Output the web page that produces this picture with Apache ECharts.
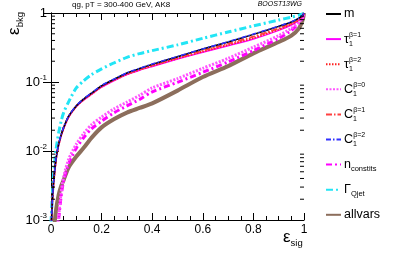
<!DOCTYPE html>
<html><head><meta charset="utf-8">
<script src="https://cdn.jsdelivr.net/npm/echarts@6/dist/echarts.min.js"></script>
<style>html,body{margin:0;padding:0;background:#fff}#c{width:399px;height:254px}</style>
</head><body><div id="c"></div>
<script>
const sigEff = [0, 0.005, 0.01, 0.02, 0.03, 0.04, 0.05, 0.07, 0.1, 0.13, 0.16, 0.2, 0.25, 0.3, 0.35, 0.4, 0.5, 0.6, 0.7, 0.8, 0.9, 0.95, 0.98, 0.995, 1];
const bkgM      = [0.0006,0.0018,0.0035,0.0078,0.0125,0.017,0.022,0.032,0.045,0.057,0.069,0.088,0.11,0.135,0.157,0.18,0.232,0.3,0.38,0.49,0.64,0.74,0.84,0.93,1];
const bkgTau1   = [0.0006,0.0017,0.0033,0.0075,0.012,0.0165,0.021,0.031,0.044,0.055,0.066,0.084,0.105,0.128,0.148,0.168,0.215,0.27,0.335,0.42,0.56,0.67,0.79,0.9,1];
const bkgTau2   = [0.0006,0.0018,0.0034,0.0077,0.0123,0.0168,0.0215,0.0315,0.0445,0.056,0.067,0.086,0.107,0.13,0.151,0.172,0.22,0.277,0.345,0.435,0.58,0.69,0.8,0.91,1];
const bkgC0     = [0.00005,0.0001,0.0002,0.0005,0.0011,0.0025,0.0042,0.0076,0.0125,0.018,0.024,0.031,0.041,0.051,0.064,0.082,0.112,0.158,0.22,0.32,0.47,0.6,0.74,0.87,1];
const bkgC1     = [0.0006,0.0018,0.0034,0.0077,0.0124,0.0169,0.0218,0.0318,0.0448,0.0565,0.068,0.087,0.108,0.132,0.153,0.175,0.225,0.285,0.36,0.455,0.6,0.71,0.82,0.92,1];
const bkgC2     = [0.0006,0.0018,0.0035,0.0079,0.0126,0.0172,0.0222,0.0322,0.0455,0.0575,0.0695,0.089,0.111,0.136,0.158,0.182,0.235,0.302,0.383,0.495,0.645,0.745,0.845,0.93,1];
const bkgNconst = [0.00004,0.00008,0.00015,0.0004,0.001,0.0022,0.0037,0.0066,0.011,0.0158,0.021,0.027,0.036,0.045,0.056,0.072,0.099,0.138,0.195,0.285,0.43,0.56,0.71,0.86,1];
const bkgQjet   = [0.0009,0.0022,0.0045,0.0105,0.018,0.027,0.036,0.052,0.082,0.105,0.128,0.155,0.19,0.228,0.258,0.285,0.345,0.43,0.53,0.65,0.79,0.87,0.93,0.97,1];
const bkgAll    = [0.0001,0.0003,0.0006,0.0014,0.0023,0.0031,0.0038,0.0058,0.0083,0.0112,0.0155,0.022,0.029,0.036,0.042,0.049,0.075,0.118,0.17,0.26,0.38,0.47,0.6,0.8,1];
const yMinorTicks = [0.002,0.003,0.004,0.005,0.006,0.007,0.008,0.009,0.02,0.03,0.04,0.05,0.06,0.07,0.08,0.09,0.2,0.3,0.4,0.5,0.6,0.7,0.8,0.9];
const xTickLabels = {0:'0',0.2:'0.2',0.4:'0.4',0.6:'0.6',0.8:'0.8',1:'1'};
const seriesNames = ['m','tau1b1','tau1b2','C1b0','C1b1','C1b2','nconst','qjet','allvars'];
const legendLabels = {
  m: '{n|m}',
  tau1b1: '{n|τ}{sb|1}{sp|β=1}',
  tau1b2: '{n|τ}{sb|1}{sp|β=2}',
  C1b0: '{n|C}{sb|1}{sp|β=0}',
  C1b1: '{n|C}{sb|1}{sp|β=1}',
  C1b2: '{n|C}{sb|1}{sp|β=2}',
  nconst: '{n|n}{s2|constits}',
  qjet: '{n|Γ}{s2|Qjet}',
  allvars: '{n|allvars}'
};

const FONT = 'Liberation Sans, Arial, Helvetica, sans-serif';
const chart = echarts.init(document.getElementById('c'), null, {renderer:'canvas'});
function mk(arr){ return sigEff.map((x,i)=>[x, arr[i]]); }
function line(name, arr, color, width, type, z){
  return {name, type:'line', data: mk(arr), symbol:'none', smooth:0.25, clip:true, z: z||2,
    lineStyle:{color, width, type}, itemStyle:{color}, emphasis:{disabled:true}};
}
const option = {
  animation:false,
  title:[
    {text:'qg, pT = 300-400 GeV, AK8', left:72, top:1, padding:0, textStyle:{fontSize:8, fontWeight:'normal', color:'#000', fontFamily:FONT}},
    {text:'BOOST13WG', right:97, top:1, padding:0, textStyle:{fontSize:7, fontStyle:'italic', fontWeight:'normal', color:'#000', fontFamily:FONT}}
  ],
  grid:{left:51, right:95, top:13, bottom:34},
  xAxis:[
    {type:'value', min:0, max:1, interval:0.2, position:'bottom',
     axisLine:{lineStyle:{color:'#000', width:1}}, splitLine:{show:false},
     axisTick:{inside:true, length:7, lineStyle:{color:'#000'}},
     minorTick:{show:true, splitNumber:4, length:4, lineStyle:{color:'#000'}},
     axisLabel:{color:'#000', fontSize:12, fontFamily:FONT, margin:4, formatter:v=>xTickLabels[Math.round(v*10)/10] ?? ''}},
    {type:'value', min:0, max:1, interval:0.2, position:'top',
     axisLine:{lineStyle:{color:'#000', width:1}}, splitLine:{show:false},
     axisTick:{inside:true, length:7, lineStyle:{color:'#000'}},
     minorTick:{show:true, splitNumber:4, length:4, lineStyle:{color:'#000'}},
     axisLabel:{show:false}}
  ],
  yAxis:[
    {type:'log', logBase:10, min:0.001, max:1, position:'left',
     axisLine:{show:true, lineStyle:{color:'#000', width:1}}, splitLine:{show:false},
     axisTick:{show:true, inside:true, length:8, lineStyle:{color:'#000'}},
     axisLabel:{color:'#000', fontFamily:FONT, margin:4,
       formatter:v=>{const e=Math.round(Math.log10(v)); return e===0?'{b|1}':'{b|10}{s|'+e+'}';},
       rich:{b:{fontSize:13, fontFamily:FONT, color:'#000'}, s:{fontSize:8, fontFamily:FONT, color:'#000', padding:[0,0,9,0]}}}},
    {type:'log', logBase:10, min:0.001, max:1, position:'right',
     axisLine:{show:true, lineStyle:{color:'#000', width:1}}, splitLine:{show:false},
     axisTick:{show:true, inside:true, length:8, lineStyle:{color:'#000'}},
     axisLabel:{show:false}}
  ],
  legend:{
    orient:'vertical', left:321, top:1.5, padding:0, itemWidth:15, itemHeight:31.25, itemGap:0.1,
    data: seriesNames, selectedMode:false,
    itemStyle:{opacity:0},
    formatter: n => legendLabels[n],
    textStyle:{color:'#000', fontFamily:FONT, fontSize:11.5, padding:[0,0,0,-2],
      rich:{
        n:{fontSize:12.5, fontFamily:FONT, color:'#000'},
        sb:{fontSize:7, fontFamily:FONT, color:'#000', width:0.1, padding:[9,0,0,0]},
        sp:{fontSize:7, fontFamily:FONT, color:'#000', padding:[0,0,9,0]},
        s2:{fontSize:7.5, fontFamily:FONT, color:'#000', padding:[8,0,0,0]}
      }}
  },
  graphic:[
    {type:'text', left:6, top:12, rotation:Math.PI/2, z:10,
     style:{text:'{e|ε}{s|bkg}', rich:{e:{fontSize:17, fontFamily:FONT, fill:'#000'}, s:{fontSize:9.5, fontFamily:FONT, fill:'#000', padding:[11,0,0,0]}}}},
    {type:'text', left:283, top:229, z:10,
     style:{text:'{e|ε}{s|sig}', rich:{e:{fontSize:17, fontFamily:FONT, fill:'#000'}, s:{fontSize:9.5, fontFamily:FONT, fill:'#000', padding:[11,0,0,0]}}}}
  ],
  series:[
    line('allvars', bkgAll, '#8c6e5c', 4, 'solid', 1),
    line('qjet', bkgQjet, '#22e5f5', 3, [7,3,2,3], 2),
    line('nconst', bkgNconst, '#ff00ff', 3, [6,3,2,3], 2),
    line('C1b0', bkgC0, '#ff55ff', 3, [2,1.5], 2),
    line('tau1b1', bkgTau1, '#ff00ff', 1.5, 'solid', 3),
    line('tau1b2', bkgTau2, '#ff2020', 2, [1.5,1.5], 3),
    line('C1b1', bkgC1, '#ff4040', 2, [6,2,1.5,2], 3),
    line('m', bkgM, '#000000', 1.5, 'solid', 4),
    line('C1b2', bkgC2, '#3030ff', 1.5, [5,2,1.5,2], 5),
    {type:'custom', name:'minorTicks', silent:true, xAxisIndex:0, yAxisIndex:0, z:6,
     data: yMinorTicks.map(v=>[0, v]),
     renderItem:(params, api)=>{
       const v = api.value(1);
       const pL = api.coord([0, v]); const pR = api.coord([1, v]);
       return {type:'group', children:[
         {type:'line', shape:{x1:pL[0], y1:pL[1], x2:pL[0]+4, y2:pL[1]}, style:{stroke:'#000', lineWidth:1}},
         {type:'line', shape:{x1:pR[0], y1:pR[1], x2:pR[0]-4, y2:pR[1]}, style:{stroke:'#000', lineWidth:1}}
       ]};
     }}
  ]
};
chart.setOption(option);
</script></body></html>
